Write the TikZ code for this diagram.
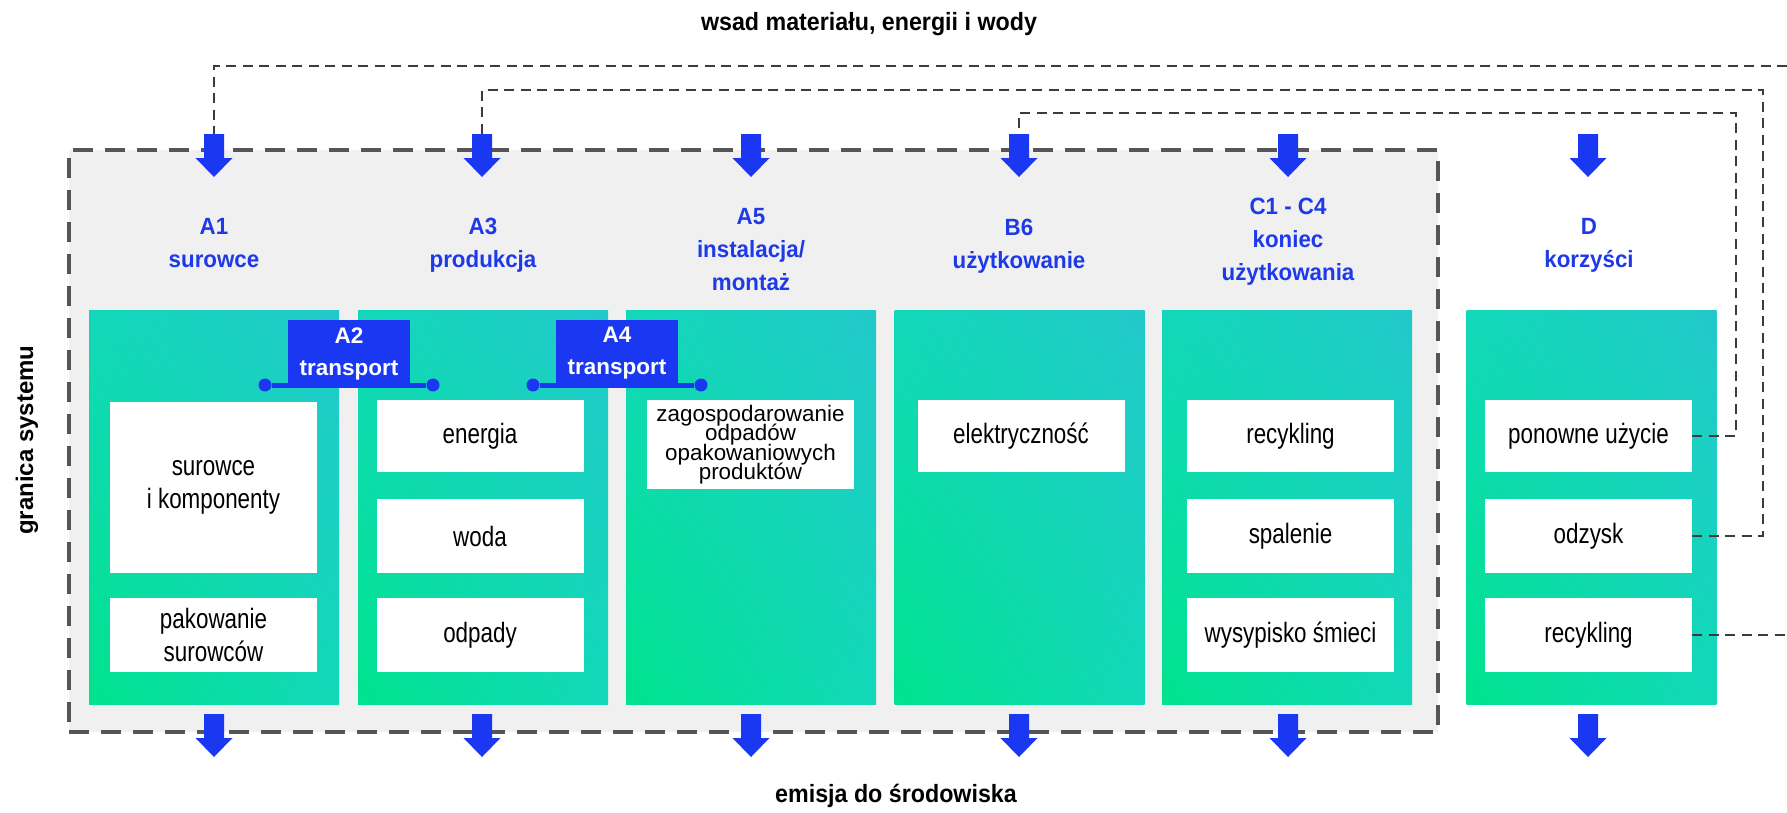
\documentclass[tikz,border=0pt]{standalone}
\usepackage{fontspec}
\usetikzlibrary{shadings}
\setmainfont{Liberation Sans}
\newfontfamily\narrowsans[FakeStretch=0.8]{Liberation Sans}
\newfontfamily\titlesans[FakeStretch=0.93]{Liberation Sans}
\newfontfamily\labelsans[FakeStretch=0.95]{Liberation Sans}
\newcommand\tightlines{\lineskiplimit=-40pt\relax\lineskip=0pt\relax}
\definecolor{cblue}{HTML}{1A38F2}
\definecolor{clabel}{HTML}{1E3AE8}
\definecolor{cgreen}{HTML}{00E38E}
\definecolor{cteal}{HTML}{22C9CA}
\definecolor{cmid}{HTML}{12D8B9}
\definecolor{cgrey}{HTML}{F0F0F0}
\definecolor{cdash}{HTML}{555555}
\definecolor{cfeed}{HTML}{3C3C3C}
\begin{document}
\begin{tikzpicture}[x=1pt,y=-1pt,
  sysbox/.style={fill=cgrey, draw=cdash, line width=3.5pt, dash pattern=on 20pt off 12pt, minimum width=1369pt, minimum height=582pt, inner sep=0pt},
  colbox/.style={minimum width=250pt, minimum height=394pt, inner sep=0pt, lower left=cgreen, upper right=cteal, upper left=cmid, lower right=cmid},
  wbox/.style={fill=white, minimum width=207pt, inner sep=0pt, align=center, text=black, font=\narrowsans\fontsize{28}{33}\selectfont},
  zagbox/.style={fill=white, minimum width=207pt, inner sep=0pt, align=center, text=black, font=\fontsize{22.4}{19.4}\selectfont\tightlines},
  lab/.style={anchor=north, inner sep=0pt, align=center, text=clabel, font=\labelsans\bfseries\fontsize{23.5}{33}\selectfont},
  tbox/.style={fill=cblue, text=white, minimum width=122pt, minimum height=67pt, inner sep=0pt, align=center, font=\bfseries\fontsize{22.5}{32}\selectfont},
  tline/.style={draw=cblue, line width=5pt},
  tdot/.style={circle, fill=cblue, minimum size=13pt, inner sep=0pt},
  feed/.style={draw=cfeed, line width=2pt, dash pattern=on 10pt off 6.5pt},
  bigtext/.style={anchor=base, inner sep=0pt, text=black, font=\titlesans\bfseries\fontsize{25}{30}\selectfont},
  downarr/.pic={\fill[cblue] (-10,0) -- (10,0) -- (10,24) -- (18.5,24) -- (0,43) -- (-18.5,24) -- (-10,24) -- cycle;}
]
\useasboundingbox (0,0) rectangle (1787,812);

% system boundary
\node[sysbox] (sysb) at (753.5,441) {};

% columns
\node[colbox] (c1) at (214,507) {};
\node[colbox] (c2) at (483,507) {};
\node[colbox] (c3) at (751,507) {};
\node[colbox] (c4) at (1019.5,507) {};
\node[colbox] (c5) at (1287,507) {};
\node[colbox] (c6) at (1591.5,507) {};

% white boxes
\node[wbox, minimum height=171pt] (sur) at (213.5,487.5) {surowce\\i komponenty};
\node[wbox, minimum height=74pt] (pak) at (213.5,635) {pakowanie\\surowców};
\node[wbox, minimum height=72pt] (ene) at (480,436) {energia};
\node[wbox, minimum height=74pt] (wod) at (480,536) {woda};
\node[wbox, minimum height=74pt] (odp) at (480,635) {odpady};
\node[zagbox, minimum height=89pt] (zag) at (750.5,444.5) {zagospodarowanie\\odpadów\\opakowaniowych\\produktów};
\node[wbox, minimum height=72pt] (ele) at (1021,436) {elektryczność};
\node[wbox, minimum height=72pt] (rec) at (1290.5,436) {recykling};
\node[wbox, minimum height=74pt] (spa) at (1290.5,536) {spalenie};
\node[wbox, minimum height=74pt] (wys) at (1290.5,635) {wysypisko śmieci};
\node[wbox, minimum height=72pt] (pon) at (1588.5,436) {ponowne użycie};
\node[wbox, minimum height=74pt] (odz) at (1588.5,536) {odzysk};
\node[wbox, minimum height=74pt] (drc) at (1588.5,635) {recykling};

% transport A2 / A4
\node[tdot] (a2l) at (265,385) {};
\node[tdot] (a2r) at (433,385) {};
\draw[tline] (a2l) -- (a2r);
\node[tbox] (a2) at (349,353.5) {A2\\transport};
\node[tdot] (a4l) at (533,385) {};
\node[tdot] (a4r) at (701,385) {};
\draw[tline] (a4l) -- (a4r);
\node[tbox] (a4) at (617,353.5) {A4\\transport};

% stage labels
\node[lab] (lA1) at (214,218) {A1\\surowce};
\node[lab] (lA3) at (483,218) {A3\\produkcja};
\node[lab] (lA5) at (751,208) {A5\\instalacja/\\montaż};
\node[lab] (lB6) at (1019,219) {B6\\użytkowanie};
\node[lab] (lC) at (1288,198) {C1 - C4\\koniec\\użytkowania};
\node[lab] (lD) at (1589,218) {D\\korzyści};

% texts
\node[bigtext] (title) at (869,30) {wsad materiału, energii i wody};
\node[bigtext] (emis) at (896,802) {emisja do środowiska};
\node[rotate=90, inner sep=0pt, text=black, font=\bfseries\fontsize{24}{28}\selectfont] (gran) at (27,440) {granica systemu};

% feedback connectors
\coordinate (inA1) at (214,150);
\coordinate (inA3) at (482,150);
\coordinate (inB6) at (1019,150);
\coordinate (far1) at (1810,66);
\coordinate (far2) at (1763,90);
\coordinate (far3) at (1736,113);
\draw[feed] (pon.east) -| (far3) -| (inB6);
\draw[feed] (odz.east) -| (far2) -| (inA3);
\draw[feed] (drc.east) -| (far1) -| (inA1);

% arrows
\foreach \xx in {214,482,751,1019,1288,1588} {
  \pic at (\xx,134) {downarr};
  \pic at (\xx,714) {downarr};
}
\end{tikzpicture}
\end{document}
